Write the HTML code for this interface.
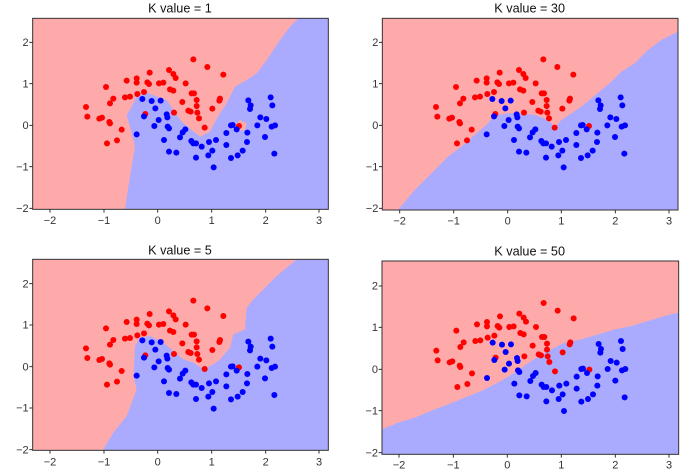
<!DOCTYPE html><html><head><style>body{margin:0;background:#fff}svg{display:block}</style></head><body>
<svg width="698" height="473" xmlns="http://www.w3.org/2000/svg" font-family="Liberation Sans, DejaVu Sans, sans-serif">
<defs>
<g id="pts">
<g fill="#ff0000">
<circle cx="258" cy="321" r="9"/><circle cx="262" cy="350" r="9"/><circle cx="318" cy="261" r="9"/><circle cx="330" cy="310" r="9"/><circle cx="340" cy="296" r="9"/><circle cx="298" cy="356" r="9"/><circle cx="306" cy="353" r="9"/><circle cx="328" cy="366" r="9"/><circle cx="330" cy="370" r="9"/><circle cx="365" cy="389" r="9"/><circle cx="351" cy="421" r="9"/><circle cx="321" cy="430" r="9"/><circle cx="380" cy="242" r="9"/><circle cx="375" cy="292" r="9"/><circle cx="390" cy="290" r="9"/><circle cx="410" cy="235" r="9"/><circle cx="410" cy="248" r="9"/><circle cx="412" cy="282" r="9"/><circle cx="432" cy="276" r="9"/><circle cx="442" cy="247" r="9"/><circle cx="447" cy="252" r="9"/><circle cx="449" cy="218" r="9"/><circle cx="436" cy="342" r="9"/><circle cx="477" cy="250" r="9"/><circle cx="490" cy="248" r="9"/><circle cx="507" cy="210" r="9"/><circle cx="520" cy="222" r="9"/><circle cx="527" cy="234" r="9"/><circle cx="510" cy="268" r="9"/><circle cx="520" cy="272" r="9"/><circle cx="522" cy="338" r="9"/><circle cx="557" cy="250" r="9"/><circle cx="547" cy="306" r="9"/><circle cx="565" cy="332" r="9"/><circle cx="572" cy="335" r="9"/><circle cx="580" cy="178" r="9"/><circle cx="575" cy="280" r="9"/><circle cx="582" cy="280" r="9"/><circle cx="590" cy="300" r="9"/><circle cx="590" cy="318" r="9"/><circle cx="592" cy="338" r="9"/><circle cx="597" cy="355" r="9"/><circle cx="614" cy="383" r="9"/><circle cx="622" cy="201" r="9"/><circle cx="637" cy="326" r="9"/><circle cx="658" cy="302" r="9"/><circle cx="660" cy="296" r="9"/><circle cx="670" cy="224" r="9"/><circle cx="717" cy="378" r="9"/>
</g>
<g fill="#0000ff">
<circle cx="427" cy="297" r="9"/><circle cx="455" cy="303" r="9"/><circle cx="482" cy="302" r="9"/><circle cx="466" cy="325" r="9"/><circle cx="432" cy="349" r="9"/><circle cx="500" cy="343" r="9"/><circle cx="502" cy="352" r="9"/><circle cx="476" cy="360" r="9"/><circle cx="463" cy="378" r="9"/><circle cx="503" cy="380" r="9"/><circle cx="507" cy="385" r="9"/><circle cx="410" cy="403" r="9"/><circle cx="492" cy="420" r="9"/><circle cx="507" cy="455" r="9"/><circle cx="529" cy="458" r="9"/><circle cx="540" cy="412" r="9"/><circle cx="548" cy="397" r="9"/><circle cx="556" cy="388" r="9"/><circle cx="574" cy="423" r="9"/><circle cx="580" cy="430" r="9"/><circle cx="588" cy="430" r="9"/><circle cx="605" cy="440" r="9"/><circle cx="627" cy="426" r="9"/><circle cx="625" cy="466" r="9"/><circle cx="588" cy="473" r="9"/><circle cx="637" cy="452" r="9"/><circle cx="648" cy="420" r="9"/><circle cx="641" cy="502" r="9"/><circle cx="679" cy="399" r="9"/><circle cx="679" cy="435" r="9"/><circle cx="693" cy="474" r="9"/><circle cx="698" cy="375" r="9"/><circle cx="710" cy="388" r="9"/><circle cx="713" cy="466" r="9"/><circle cx="728" cy="452" r="9"/><circle cx="742" cy="398" r="9"/><circle cx="741" cy="426" r="9"/><circle cx="745" cy="301" r="9"/><circle cx="750" cy="327" r="9"/><circle cx="752" cy="316" r="9"/><circle cx="772" cy="376" r="9"/><circle cx="781" cy="352" r="9"/><circle cx="799" cy="357" r="9"/><circle cx="795" cy="411" r="9"/><circle cx="812" cy="292" r="9"/><circle cx="817" cy="316" r="9"/><circle cx="815" cy="380" r="9"/><circle cx="825" cy="376" r="9"/><circle cx="823" cy="461" r="9"/><circle cx="693" cy="376" r="9"/>
</g>
</g>
<g id="axes" font-size="33" fill="#333">
<g text-anchor="middle">
<text x="150" y="46">-2</text>
</g>
</g>
</defs>

<!-- Panel TL K=1 -->
<g transform="scale(0.33333)">
<rect x="98" y="55" width="887" height="573" fill="#ffaaaa"/>
<polygon fill="#aaaaff" points="375,628 385,560 395,500 405,440 395,400 380,345 395,320 410,290 440,278 470,290 500,300 520,330 545,365 575,390 600,410 630,395 640,375 660,340 680,310 705,260 740,240 770,220 800,180 840,120 870,80 895,55 985,55 985,628"/>
<polygon fill="#ffaaaa" points="705,375 720,360 740,370 735,390 715,392"/>
<use href="#pts"/>
<rect x="98" y="55" width="887" height="573" fill="none" stroke="#333" stroke-width="3"/>
<text x="540" y="38" font-size="38" text-anchor="middle" fill="#111">K value = 1</text>
<g font-size="33" fill="#333" text-anchor="middle">
<text x="150" y="672">−2</text><text x="312" y="672">−1</text><text x="473" y="672">0</text><text x="635" y="672">1</text><text x="797" y="672">2</text><text x="957" y="672">3</text>
</g>
<g font-size="33" fill="#333" text-anchor="end">
<text x="86" y="138">2</text><text x="86" y="262">1</text><text x="86" y="387">0</text><text x="86" y="511">−1</text><text x="86" y="636">−2</text>
</g>
<g stroke="#333" stroke-width="3">
<path d="M150,628v10M312,628v10M473,628v10M635,628v10M797,628v10M957,628v10M98,127h-10M98,251h-10M98,376h-10M98,500h-10M98,625h-10"/>
</g>
</g>

<!-- Panel TR K=30 -->
<g transform="translate(348,0) scale(0.33333)">
<rect x="103" y="55" width="887" height="575" fill="#ffaaaa"/>
<polygon fill="#aaaaff" points="150,630 200,570 250,520 300,470 340,440 380,405 420,370 440,345 480,340 520,340 560,345 590,355 610,370 620,385 640,360 670,340 700,320 730,295 760,270 790,245 820,215 860,190 900,150 940,120 990,95 990,630"/>
<use href="#pts" transform="translate(6,0)"/>
<rect x="103" y="55" width="887" height="575" fill="none" stroke="#333" stroke-width="3"/>
<text x="545" y="38" font-size="38" text-anchor="middle" fill="#111">K value = 30</text>
<g font-size="33" fill="#333" text-anchor="middle">
<text x="155" y="674">−2</text><text x="317" y="674">−1</text><text x="479" y="674">0</text><text x="640" y="674">1</text><text x="802" y="674">2</text><text x="963" y="674">3</text>
</g>
<g font-size="33" fill="#333" text-anchor="end">
<text x="91" y="138">2</text><text x="91" y="262">1</text><text x="91" y="387">0</text><text x="91" y="511">−1</text><text x="91" y="636">−2</text>
</g>
<g stroke="#333" stroke-width="3">
<path d="M155,630v10M317,630v10M479,630v10M640,630v10M802,630v10M963,630v10M103,127h-10M103,251h-10M103,376h-10M103,500h-10M103,625h-10"/>
</g>
</g>

<!-- Panel BL K=5 -->
<g transform="translate(0,236) scale(0.33333)">
<rect x="98" y="70" width="887" height="573" fill="#ffaaaa"/>
<polygon fill="#aaaaff" points="308,643 340,590 380,540 410,460 400,420 405,330 420,305 450,300 490,320 520,345 550,370 580,380 610,400 640,385 660,370 690,335 700,295 735,280 740,215 760,190 790,160 830,120 860,95 890,70 985,70 985,643"/>
<use href="#pts" transform="translate(0,16)"/>
<rect x="98" y="70" width="887" height="573" fill="none" stroke="#333" stroke-width="3"/>
<text x="540" y="55" font-size="38" text-anchor="middle" fill="#111">K value = 5</text>
<g font-size="33" fill="#333" text-anchor="middle">
<text x="150" y="688">−2</text><text x="312" y="688">−1</text><text x="473" y="688">0</text><text x="635" y="688">1</text><text x="797" y="688">2</text><text x="957" y="688">3</text>
</g>
<g font-size="33" fill="#333" text-anchor="end">
<text x="86" y="154">2</text><text x="86" y="278">1</text><text x="86" y="403">0</text><text x="86" y="527">−1</text><text x="86" y="652">−2</text>
</g>
<g stroke="#333" stroke-width="3">
<path d="M150,643v10M312,643v10M473,643v10M635,643v10M797,643v10M957,643v10M98,143h-10M98,267h-10M98,392h-10M98,516h-10M98,641h-10"/>
</g>
</g>

<!-- Panel BR K=50 -->
<g transform="translate(348,236) scale(0.33333)">
<rect x="102" y="75" width="890" height="580" fill="#ffaaaa"/>
<polygon fill="#aaaaff" points="102,580 150,560 200,545 260,520 300,505 350,485 400,465 450,440 500,410 550,375 600,345 650,320 700,310 750,295 800,280 850,270 900,255 950,240 992,230 992,655 102,655"/>
<use href="#pts" transform="translate(7,23)"/>
<rect x="102" y="75" width="890" height="580" fill="none" stroke="#333" stroke-width="3"/>
<text x="545" y="58" font-size="38" text-anchor="middle" fill="#111">K value = 50</text>
<g font-size="33" fill="#333" text-anchor="middle">
<text x="153" y="697">−2</text><text x="316" y="697">−1</text><text x="478" y="697">0</text><text x="640" y="697">1</text><text x="802" y="697">2</text><text x="963" y="697">3</text>
</g>
<g font-size="33" fill="#333" text-anchor="end">
<text x="90" y="161">2</text><text x="90" y="285">1</text><text x="90" y="411">0</text><text x="90" y="535">−1</text><text x="90" y="661">−2</text>
</g>
<g stroke="#333" stroke-width="3">
<path d="M153,655v10M316,655v10M478,655v10M640,655v10M802,655v10M963,655v10M102,150h-10M102,274h-10M102,400h-10M102,524h-10M102,650h-10"/>
</g>
</g>
</svg>
</body></html>
